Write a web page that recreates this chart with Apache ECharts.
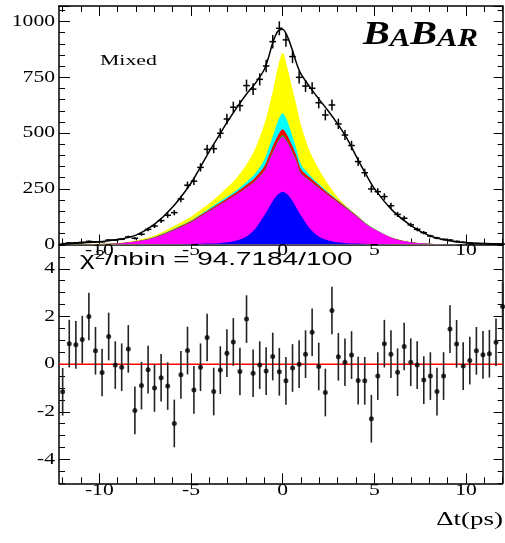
<!DOCTYPE html>
<html><head><meta charset="utf-8">
<script src="https://cdn.jsdelivr.net/npm/echarts@6/dist/echarts.min.js"></script>
<style>html,body{margin:0;padding:0;background:#fff}#c{width:505px;height:543px}</style>
</head><body><div id="c"></div><script>
// ---- data ----
const binX = [-12.00,-11.64,-11.28,-10.93,-10.57,-10.21,-9.85,-9.49,-9.13,-8.78,
  -8.42,-8.06,-7.70,-7.34,-6.99,-6.63,-6.27,-5.91,-5.55,-5.19,
  -4.84,-4.48,-4.12,-3.76,-3.40,-3.04,-2.69,-2.33,-1.97,-1.61,
  -1.25,-0.90,-0.54,-0.18,0.18,0.54,0.90,1.25,1.61,1.97,
  2.33,2.69,3.04,3.40,3.76,4.12,4.48,4.84,5.19,5.55,
  5.91,6.27,6.63,6.99,7.34,7.70,8.06,8.42,8.78,9.13,
  9.49,9.85,10.21,10.57,10.93,11.28,11.64,12.00];
const halfBin = 0.179;
const counts = [2,7,8,10,14,12,12,20,20,24,
  34,28,46,68,83,107,131,143,204,266,
  284,346,427,430,499,563,616,623,713,697,
  741,801,910,970,918,843,750,711,701,636,
  581,626,541,491,444,372,322,249,237,215,
  174,135,118,88,68,53,38,29,23,20,
  14,10,7,5,4,3,2,2];
const pulls = [-1.16,0.86,0.81,1.03,2.0,0.56,-0.35,1.16,-0.04,-0.13,
  0.64,-1.94,-0.9,-0.23,-1.0,-0.57,-0.92,-2.49,-0.45,0.57,
  -1.08,-0.13,1.12,-1.15,-0.25,0.46,0.93,-0.31,1.89,-0.38,
  -0.04,-0.29,0.32,-0.32,-0.7,-0.16,0.0,0.42,1.34,-0.1,
  -1.19,2.25,0.31,0.08,0.38,-0.69,-0.7,-2.29,-0.5,0.86,
  0.42,-0.34,0.74,0.08,-0.04,-0.67,-0.5,-1.15,-0.5,1.47,
  0.85,-0.08,0.15,0.56,0.39,0.44,0.92,2.42];
const pullErr = 1;

const curveX = [-12,-11,-10,-9,-8,-7,-6,-5,-4.5,-4,-3.5,-3,-2.5,-2,-1.5,-1,-0.75,-0.5,-0.25,0,
  0.25,0.5,0.75,1,1.5,2,2.5,3,3.5,4,4.5,5,6,7,8,9,10,11,12];
const fitY = [4,7,12,22,42,90,168,275,345,418,485,552,614,672,722,785,845,915,958,966,
  935,880,815,765,705,650,598,541,477,398,322,252,152,85,40,18,8,4,2];
// cumulative component tops
const yellowY = [1,2,3.5,7,18,40,80,125,155,185,220,258,300,355,430,540,615,700,800,860,
  795,710,625,535,415,335,268,212,170,135,99,71,30,11,3.5,1.2,0.5,0,0];
const cyanY = [0.6,1.2,2.4,5.7,15,34,68,108,135,162,189,216,245,278,318,380,435,495,555,589,
  555,495,430,360,310,270,233,200,167,133,98,70.5,29,10.5,3.2,1.1,0.5,0,0];
const redY = [0.6,1.2,2.3,5.5,14.5,33,66,105,131,157,183,209,236,266,300,350,398,447,490,517,
  490,447,398,338,299,264,229,197,165,132,97,70,29,10.5,3.2,1.1,0.5,0,0];
const greenY = [0.5,1,2,5,13.5,31,63,101,126,151,176,201,227,255,287,333,379,425,466,491,
  466,425,379,321,287,254,221,191,161,129,95,68.5,28,10,3,1,0.5,0,0];
const magentaY = [0.5,1,2,5,13,30,62,100,125,150,175,200,225,253,285,330,375,420,460,484,
  460,420,375,318,285,252,220,190,160,128,94,68,28,10,3,1,0.5,0,0];
const blueY = [0,0,0,0,0,0.5,1,2,3,4,6,10,18,35,70,130,165,200,225,237,
  225,200,165,130,70,35,18,10,6,4,2,1,0.5,0,0,0,0,0,0];

const topYTicks = [0,250,500,750,1000];
const xMajor = [-10,-5,0,5,10];
const xMinor = [-12,-11,-10,-9,-8,-7,-6,-5,-4,-3,-2,-1,0,1,2,3,4,5,6,7,8,9,10,11,12];
const resYTicks = [-4,-2,0,2,4];
const X_MIN = -12.2, X_MAX = 12;
const TOP_MAX = 1070;
const zeroLine = [[X_MIN,0],[X_MAX,0]];

// ---- chart ----
const chart = echarts.init(document.getElementById('c'));
const BLK = '#000';
function xAx(grid, pos, custom, len, line){
  return {type:'value', gridIndex:grid, position:pos, min:X_MIN, max:X_MAX,
    axisLine:{show:line, onZero:false, lineStyle:{color:BLK,width:1.5}},
    axisTick:{show:true, inside:true, length:len, customValues:custom, lineStyle:{color:BLK,width:1}},
    axisLabel:{show:false}, splitLine:{show:false}};
}
function yAx(grid, pos, line, o){
  return Object.assign({type:'value', gridIndex:grid, position:pos,
    axisLine:{show:line, onZero:false, lineStyle:{color:BLK,width:1.5}},
    axisLabel:{show:false}, splitLine:{show:false}}, o);
}
function areaS(data, color, z){
  return {type:'line', xAxisIndex:0, yAxisIndex:0, data:curveX.map((x,i)=>[x,data[i]]),
    smooth:0.3, showSymbol:false, symbol:'none', z:z, silent:true,
    lineStyle:{width:0}, areaStyle:{color:color, opacity:1}};
}
function crossItem(params, api){
  const x=api.value(0), y=api.value(1), e=api.value(2), hw=api.value(3);
  const l=api.coord([x-hw,y]), r=api.coord([x+hw,y]);
  const t=api.coord([x,y+e]), b=api.coord([x,y-e]);
  return {type:'group', children:[
    {type:'line', shape:{x1:l[0],y1:l[1],x2:r[0],y2:r[1]}, style:{stroke:BLK,lineWidth:1.5}},
    {type:'line', shape:{x1:t[0],y1:t[1],x2:b[0],y2:b[1]}, style:{stroke:BLK,lineWidth:1.5}}]};
}
function barItem(params, api){
  const x=api.value(0), y=api.value(1), e=api.value(2);
  const t=api.coord([x,y+e]), b=api.coord([x,y-e]);
  return {type:'line', shape:{x1:t[0],y1:t[1],x2:b[0],y2:b[1]}, style:{stroke:'#222',lineWidth:1.6}};
}

const option = {
  animation:false,
  backgroundColor:'#fff',
  grid:[
    {left:59, top:6, width:443.6, height:238.5, outerBoundsMode:'none', containLabel:false},
    {left:59, top:245, width:443.6, height:238.3, outerBoundsMode:'none', containLabel:false}
  ],
  xAxis:[
    xAx(0,'bottom',xMajor,10,true),
    xAx(0,'bottom',xMinor,6,false),
    xAx(0,'top',xMajor,10,true),
    xAx(0,'top',xMinor,6,false),
    xAx(1,'bottom',xMajor,10,true),
    xAx(1,'bottom',xMinor,6,false)
  ],
  yAxis:[
    yAx(0,'left',true,{min:0,max:TOP_MAX,interval:250,
      axisTick:{show:true,inside:true,length:11,lineStyle:{color:BLK}},
      minorTick:{show:true,splitNumber:5,length:6,lineStyle:{color:BLK}}}),
    yAx(0,'right',true,{min:0,max:TOP_MAX,interval:250,
      axisTick:{show:true,inside:true,length:9,lineStyle:{color:BLK}},
      minorTick:{show:true,splitNumber:5,length:5,lineStyle:{color:BLK}}}),
    yAx(1,'left',true,{min:-5,max:5,axisTick:{show:true,inside:true,length:11,customValues:resYTicks,lineStyle:{color:BLK}}}),
    yAx(1,'left',false,{min:-5,max:5,interval:0.5,axisTick:{show:true,inside:true,length:6,lineStyle:{color:BLK}}}),
    yAx(1,'right',true,{min:-5,max:5,axisTick:{show:true,inside:true,length:9,customValues:resYTicks,lineStyle:{color:BLK}}}),
    yAx(1,'right',false,{min:-5,max:5,interval:0.5,axisTick:{show:true,inside:true,length:5,lineStyle:{color:BLK}}})
  ],
  series:[
    areaS(yellowY,'#ffff00',1),
    areaS(cyanY,'#00ffff',2),
    areaS(redY,'#ff0000',3),
    areaS(greenY,'#00cc00',4),
    areaS(magentaY,'#ff00ff',5),
    areaS(blueY,'#0000ff',6),
    {type:'line', xAxisIndex:0, yAxisIndex:0, data:curveX.map((x,i)=>[x,fitY[i]]),
      smooth:0.3, showSymbol:false, symbol:'none', z:8, lineStyle:{color:BLK,width:1.5}},
    {type:'custom', xAxisIndex:0, yAxisIndex:0, z:9, renderItem:crossItem,
      data:binX.map((x,i)=>[x,counts[i],Math.sqrt(counts[i]),halfBin])},
    {type:'line', xAxisIndex:4, yAxisIndex:2, data:zeroLine, showSymbol:false, symbol:'none', z:5,
      lineStyle:{color:'#ff0000',width:1.5}},
    {type:'custom', xAxisIndex:4, yAxisIndex:2, z:6, renderItem:barItem,
      data:binX.map((x,i)=>[x,pulls[i],pullErr])},
    {type:'scatter', xAxisIndex:4, yAxisIndex:2, z:7, symbol:'circle', symbolSize:5,
      itemStyle:{color:BLK}, data:binX.map((x,i)=>[x,pulls[i]])}
  ]
};
chart.setOption(option);

// ---- texts (real text, horizontally stretched like the original) ----
const SERIF = '"Liberation Serif","Times New Roman",serif';
const SANS = '"Liberation Sans",Arial,sans-serif';
function T(x,y,text,size,align,va,sx,fam,extra){
  return {type:'text', x:x, y:y, scaleX:sx, z:100, silent:true,
    style:Object.assign({text:text, x:0, y:0, fill:'#000', fontSize:size, fontFamily:fam||SERIF,
      align:align, verticalAlign:va}, extra||{})};
}
const g = [];
const SX = 1.35;
topYTicks.forEach(v=>{
  const p = chart.convertToPixel({gridIndex:0},[0,v]);
  g.push(T(55,p[1],String(v),16,'right','middle',SX));
});
resYTicks.forEach(v=>{
  const p = chart.convertToPixel({gridIndex:1},[0,v]);
  g.push(T(55,p[1],String(v),16,'right','middle',SX));
});
xMajor.forEach(v=>{
  const p = chart.convertToPixel({gridIndex:0},[v,0]);
  g.push(T(p[0],243,String(v),16,'center','top',SX));
  const q = chart.convertToPixel({gridIndex:1},[v,-5]);
  g.push(T(q[0],q[1]-1,String(v),16,'center','top',SX));
});
g.push(T(100,61,'Mixed',15,'left','middle',1.45));
g.push(T(80,260,'{a|\u03c7}{s|2}{a|/nbin = 94.7184/100}',18,'left','middle',1.55,SANS,
  {rich:{a:{fontSize:18,fontFamily:SANS},s:{fontSize:12,fontFamily:SANS,verticalAlign:'top',padding:[0,0,8,0]}}}));
g.push(T(503,520,'\u0394t(ps)',18,'right','middle',1.5));
g.push(T(363,35,'{b|B}{s|A}{b|B}{s|AR}',34,'left','middle',1.18,SERIF,
  {rich:{b:{fontSize:34,fontWeight:'bold',fontStyle:'italic',fontFamily:SERIF,verticalAlign:'bottom'},
         s:{fontSize:26,fontWeight:'bold',fontStyle:'italic',fontFamily:SERIF,verticalAlign:'bottom'}}}));
chart.setOption({graphic:g});
</script></body></html>
